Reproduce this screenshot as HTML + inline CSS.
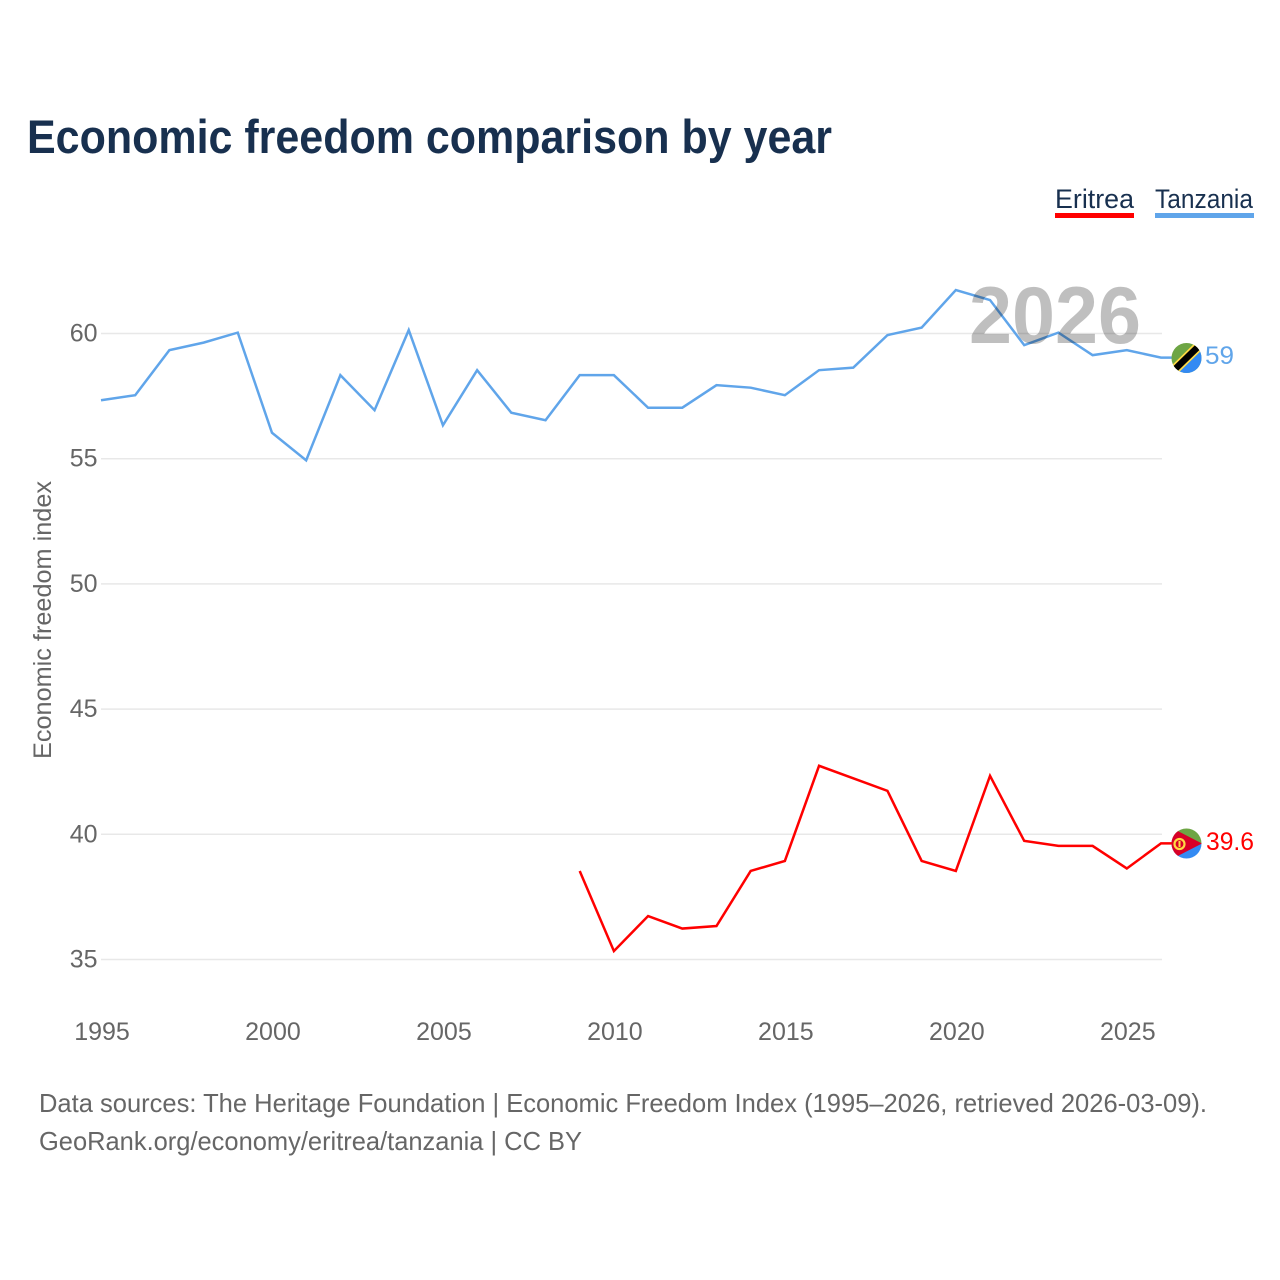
<!DOCTYPE html>
<html lang="en">
<head>
<meta charset="utf-8">
<title>Economic freedom comparison by year</title>
<style>
html,body{margin:0;padding:0;background:#fff;}
svg{display:block;font-family:"Liberation Sans",sans-serif;}
</style>
</head>
<body>
<svg id="chart" xmlns="http://www.w3.org/2000/svg" width="1280" height="1280" viewBox="0 0 1280 1280">
  <defs>
    <clipPath id="clip-tz"><circle cx="1186.5" cy="358" r="15"/></clipPath>
    <clipPath id="clip-er"><circle cx="1186.5" cy="843.5" r="15"/></clipPath>
  </defs>
  <rect x="0" y="0" width="1280" height="1280" fill="#ffffff"/>
  <text x="27" y="153" font-size="47" font-weight="700" fill="#18304f" textLength="805" lengthAdjust="spacingAndGlyphs">Economic freedom comparison by year</text>

  <g>
    <g>
      <text x="1055" y="208" font-size="27" fill="#18304f" textLength="79" lengthAdjust="spacingAndGlyphs">Eritrea</text>
      <rect x="1055" y="213" width="79" height="5" fill="#ff0000"/>
    </g>
    <g>
      <text x="1155" y="208" font-size="27" fill="#18304f" textLength="98" lengthAdjust="spacingAndGlyphs">Tanzania</text>
      <rect x="1155" y="213" width="99" height="5" fill="#60a5ea"/>
    </g>
  </g>

  <g id="grid"></g>
  <g id="yticks"></g>
  <g id="xticks"></g>
  <text transform="translate(51,620) rotate(-90)" text-anchor="middle" font-size="25" fill="#666666" textLength="278" lengthAdjust="spacingAndGlyphs">Economic freedom index</text>

  <g id="series"></g>

  <text x="969" y="343" font-size="81" font-weight="700" fill="#000000" fill-opacity="0.25" textLength="172" lengthAdjust="spacingAndGlyphs">2026</text>

  <g clip-path="url(#clip-tz)">
    <rect x="1170" y="342" width="34" height="34" fill="#6da544"/>
    <polygon points="1204,342 1204,376 1170,376" fill="#338af3"/>
    <line x1="1168" y1="376" x2="1205" y2="340" stroke="#ffda44" stroke-width="10"/>
    <line x1="1168" y1="376" x2="1205" y2="340" stroke="#000000" stroke-width="6.5"/>
  </g>
  <text id="label-tz" x="1205" y="364" font-size="25" fill="#60a5ea" textLength="29" lengthAdjust="spacingAndGlyphs"></text>

  <g clip-path="url(#clip-er)">
    <rect x="1170" y="827" width="34" height="17" fill="#6da544"/>
    <rect x="1170" y="843.5" width="34" height="17" fill="#338af3"/>
    <polygon points="1170,827 1202,843.5 1170,860" fill="#d80027"/>
    <circle cx="1179.5" cy="844" r="5" fill="none" stroke="#ffda44" stroke-width="2.2"/>
    <rect x="1178.5" y="841" width="2" height="6" fill="#ffda44"/>
  </g>
  <text id="label-er" x="1206" y="850" font-size="25" fill="#ff0000" textLength="48" lengthAdjust="spacingAndGlyphs"></text>

  <text x="39" y="1112" font-size="26" fill="#666666" textLength="1168" lengthAdjust="spacingAndGlyphs">Data sources: The Heritage Foundation | Economic Freedom Index (1995–2026, retrieved 2026-03-09).</text>
  <text x="39" y="1150" font-size="26" fill="#666666" textLength="543" lengthAdjust="spacingAndGlyphs">GeoRank.org/economy/eritrea/tanzania | CC BY</text>
</svg>
<script>
const years = [1995,1996,1997,1998,1999,2000,2001,2002,2003,2004,2005,2006,2007,2008,2009,2010,2011,2012,2013,2014,2015,2016,2017,2018,2019,2020,2021,2022,2023,2024,2025,2026];
const tanzaniaValues = [57.3,57.5,59.3,59.6,60.0,56.0,54.9,58.3,56.9,60.1,56.3,58.5,56.8,56.5,58.3,58.3,57.0,57.0,57.9,57.8,57.5,58.5,58.6,59.9,60.2,61.7,61.3,59.5,60.0,59.1,59.3,59.0];
const eritreaValues = [null,null,null,null,null,null,null,null,null,null,null,null,null,null,38.5,35.3,36.7,36.2,36.3,38.5,38.9,42.7,42.2,41.7,38.9,38.5,42.3,39.7,39.5,39.5,38.6,39.6];
const yTickValues = [35,40,45,50,55,60];
const xTickValues = [1995,2000,2005,2010,2015,2020,2025];

const NS = 'http://www.w3.org/2000/svg';
const LINE_Y_OFFSET = -0.9;
function xScale(year){ return 101 + (year - 1995) * (1161 - 101) / (2026 - 1995); }
function yScale(value){ return 959.5 - (value - 35) * (959.5 - 333.5) / (60 - 35); }

const gridGroup = document.getElementById('grid');
const yTickGroup = document.getElementById('yticks');
const xTickGroup = document.getElementById('xticks');
const seriesGroup = document.getElementById('series');

yTickValues.forEach(function(v){
  const gl = document.createElementNS(NS, 'line');
  
  
  gl.setAttribute('x1', 101);
  gl.setAttribute('x2', 1162);
  gl.setAttribute('y1', yScale(v));
  gl.setAttribute('y2', yScale(v));
  gl.setAttribute('stroke', '#e8e8e8');
  gl.setAttribute('stroke-width', '1.5');
  gridGroup.appendChild(gl);
  const t = document.createElementNS(NS, 'text');
  
  
  t.setAttribute('x', 97.5);
  t.setAttribute('y', yScale(v) + 8);
  t.setAttribute('text-anchor', 'end');
  t.setAttribute('font-size', '25');
  t.setAttribute('fill', '#666666');
  t.textContent = String(v);
  yTickGroup.appendChild(t);
});

xTickValues.forEach(function(y){
  const t = document.createElementNS(NS, 'text');
  
  
  t.setAttribute('x', xScale(y) + 1);
  t.setAttribute('y', 1040);
  t.setAttribute('text-anchor', 'middle');
  t.setAttribute('font-size', '25');
  t.setAttribute('fill', '#666666');
  t.textContent = String(y);
  xTickGroup.appendChild(t);
});

function linePoints(values){
  const pts = [];
  let lastValue = null;
  values.forEach(function(v, i){
    if (v !== null) {
      pts.push(xScale(years[i]).toFixed(2) + ',' + (yScale(v) + LINE_Y_OFFSET).toFixed(2));
      lastValue = v;
    }
  });
  pts.push('1172,' + (yScale(lastValue) + LINE_Y_OFFSET).toFixed(2));
  return pts.join(' ');
}

const eritreaLine = document.createElementNS(NS, 'polyline');


eritreaLine.setAttribute('points', linePoints(eritreaValues));
eritreaLine.setAttribute('fill', 'none');
eritreaLine.setAttribute('stroke', '#ff0000');
eritreaLine.setAttribute('stroke-width', '2.5');
seriesGroup.appendChild(eritreaLine);

const tanzaniaLine = document.createElementNS(NS, 'polyline');


tanzaniaLine.setAttribute('points', linePoints(tanzaniaValues));
tanzaniaLine.setAttribute('fill', 'none');
tanzaniaLine.setAttribute('stroke', '#60a5ea');
tanzaniaLine.setAttribute('stroke-width', '2.5');
seriesGroup.appendChild(tanzaniaLine);

document.getElementById('label-tz').textContent = String(tanzaniaValues[tanzaniaValues.length - 1]);
document.getElementById('label-er').textContent = String(eritreaValues[eritreaValues.length - 1]);
</script>
</body>
</html>
